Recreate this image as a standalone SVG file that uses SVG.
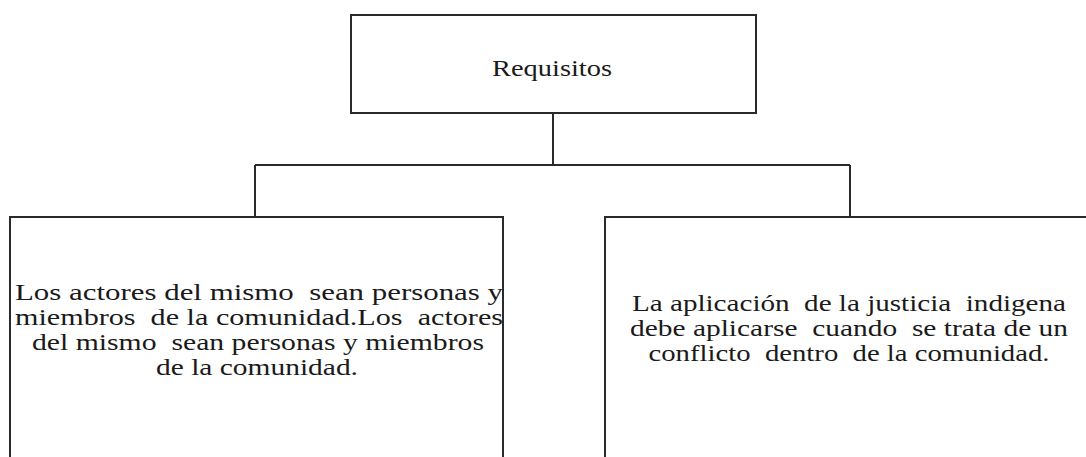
<svg xmlns="http://www.w3.org/2000/svg" width="1086" height="457" viewBox="0 0 1086 457">
<style>
.box{fill:#ffffff;stroke:#2a2a2a;stroke-width:2}
.con{fill:none;stroke:#2a2a2a;stroke-width:2}
.t{font-family:'Liberation Serif','Times New Roman','DejaVu Serif',serif;font-size:23px;fill:#1a1a1a;text-anchor:middle;white-space:pre}
</style>
<rect width="1086" height="457" fill="#ffffff"/>
<g id="connectors">
<path class="con" d="M553 113 V165 M255 165 H850 M255 165 V217 M850 165 V217"/>
</g>
<g id="node-requisitos">
<rect class="box" x="351" y="15" width="405" height="98"/>
<text class="t" x="552" y="76" font-size="24" textLength="120" lengthAdjust="spacingAndGlyphs">Requisitos</text>
</g>
<g id="node-actores">
<rect class="box" x="10" y="217" width="493" height="260"/>
<text class="t" x="259" y="300" textLength="488" lengthAdjust="spacingAndGlyphs">Los actores del mismo  sean personas y</text>
<text class="t" x="259" y="325" textLength="488" lengthAdjust="spacingAndGlyphs">miembros  de la comunidad.Los  actores</text>
<text class="t" x="258" y="350" textLength="452" lengthAdjust="spacingAndGlyphs">del mismo  sean personas y miembros</text>
<text class="t" x="257" y="375" textLength="202" lengthAdjust="spacingAndGlyphs">de la comunidad.</text>
</g>
<g id="node-aplicacion">
<rect class="box" x="605" y="217" width="490" height="260"/>
<text class="t" x="849" y="311" textLength="434" lengthAdjust="spacingAndGlyphs">La aplicación  de la justicia  indigena</text>
<text class="t" x="849" y="336" textLength="438" lengthAdjust="spacingAndGlyphs">debe aplicarse  cuando  se trata de un</text>
<text class="t" x="849" y="361" textLength="401" lengthAdjust="spacingAndGlyphs">conflicto  dentro  de la comunidad.</text>
</g>
</svg>
